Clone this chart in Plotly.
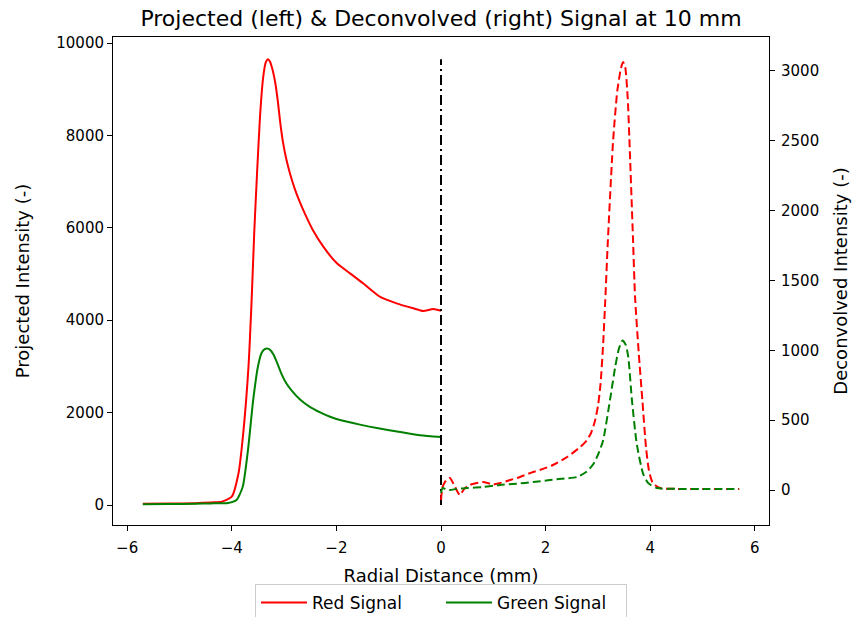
import plotly.graph_objects as go

# ---------------- data ----------------
# Projected signals (left axis), radial distance -5.7 .. 0 mm
proj_red_x = [-5.7, -5.2, -4.7, -4.4, -4.19, -4.0, -3.87, -3.78, -3.68, -3.62, -3.57, -3.52,
              -3.46, -3.40, -3.35, -3.31, -3.27, -3.22, -3.17, -3.12, -3.07, -3.02, -2.95,
              -2.88, -2.80, -2.70, -2.60, -2.45, -2.25, -1.99, -1.74, -1.49, -1.17, -0.85,
              -0.53, -0.34, -0.15, 0.0]
proj_red_y = [25, 30, 40, 55, 72, 180, 693, 1558, 2994, 4437, 5900, 7100,
              8400, 9250, 9580, 9650, 9600, 9420, 9150, 8750, 8250, 7850, 7450,
              7150, 6860, 6560, 6300, 5952, 5591, 5231, 5014, 4798, 4509, 4365,
              4257, 4199, 4242, 4206]

proj_green_x = [-5.7, -5.2, -4.7, -4.4, -4.07, -3.91, -3.79, -3.69, -3.59, -3.50, -3.43,
                -3.37, -3.31, -3.26, -3.20, -3.13, -3.05, -2.96, -2.85, -2.70, -2.50,
                -2.30, -2.12, -1.93, -1.55, -1.20, -0.78, -0.40, 0.0]
proj_green_y = [15, 20, 28, 35, 43, 108, 396, 1190, 2273, 2994, 3290,
                3375, 3385, 3350, 3250, 3070, 2840, 2640, 2470, 2290, 2120,
                2000, 1910, 1840, 1740, 1660, 1580, 1510, 1470]

# Deconvolved signals (right axis), radial distance 0 .. 5.7 mm
deconv_red_x = [0.0, 0.03, 0.10, 0.17, 0.27, 0.36, 0.45, 0.55, 0.80, 1.0, 1.13, 1.32, 1.51,
                1.76, 1.89, 2.14, 2.41, 2.66, 2.79, 2.87, 2.94, 3.00, 3.05, 3.10, 3.14,
                3.19, 3.29, 3.37, 3.44, 3.48, 3.52, 3.57, 3.61, 3.67, 3.71, 3.78, 3.85,
                3.92, 3.98, 4.05, 4.19, 4.5, 5.0, 5.7]
deconv_red_y = [-71, 21, 70, 86, 21, -36, 10, 36, 57, 40, 50, 71, 93,
                129, 143, 179, 236, 307, 357, 410, 490, 600, 760, 1050, 1357,
                1786, 2500, 2857, 3020, 3064, 3030, 2800, 2420, 1800, 1380, 980, 640,
                300, 130, 50, 14, 8, 7, 7]

deconv_green_x = [0.0, 0.03, 0.10, 0.17, 0.30, 0.50, 0.80, 1.13, 1.45, 1.76, 2.08, 2.30,
                  2.60, 2.78, 2.92, 3.02, 3.10, 3.23, 3.33, 3.40, 3.47, 3.53, 3.58, 3.65,
                  3.74, 3.86, 3.96, 4.13, 4.5, 5.0, 5.7]
deconv_green_y = [-21, 14, 5, 0, 8, 14, 21, 36, 45, 57, 71, 80,
                  93, 130, 190, 270, 357, 643, 881, 1010, 1071, 1040, 952, 643,
                  336, 121, 50, 14, 8, 7, 7]

x_ticks = [-6, -4, -2, 0, 2, 4, 6]
y_ticks = [0, 2000, 4000, 6000, 8000, 10000]
y_tick_text = ["0", "2000", "4000", "6000", "8000", "10000"]
y2_ticks = [0, 500, 1000, 1500, 2000, 2500, 3000]

RED = "#ff0000"
GREEN = "#008000"
FONT = "DejaVu Sans"

fig = go.Figure()

fig.add_trace(go.Scatter(x=proj_red_x, y=proj_red_y, mode="lines", name="Red Signal",
                         line=dict(color=RED, width=2, shape="spline", smoothing=0.6)))
fig.add_trace(go.Scatter(x=proj_green_x, y=proj_green_y, mode="lines", name="Green Signal",
                         line=dict(color=GREEN, width=2, shape="spline", smoothing=0.6)))
fig.add_trace(go.Scatter(x=deconv_red_x, y=deconv_red_y, mode="lines", yaxis="y2",
                         showlegend=False,
                         line=dict(color=RED, width=2, dash="8px,4px", shape="spline", smoothing=0.6)))
fig.add_trace(go.Scatter(x=deconv_green_x, y=deconv_green_y, mode="lines", yaxis="y2",
                         showlegend=False,
                         line=dict(color=GREEN, width=2, dash="8px,4px", shape="spline", smoothing=0.6)))
# centre line at r = 0, from 0 to the projected red maximum
fig.add_trace(go.Scatter(x=[0, 0], y=[0, max(proj_red_y)], mode="lines", showlegend=False,
                         line=dict(color="black", width=2, dash="10px,4px,2px,4px")))

axis_common = dict(showline=True, linecolor="black", linewidth=1, ticks="outside",
                   ticklen=5, tickwidth=1, tickcolor="black", showgrid=False,
                   zeroline=False, automargin=False,
                   tickfont=dict(size=15, color="black", family=FONT))

fig.update_layout(
    width=854, height=617,
    margin=dict(l=113, r=85, t=37, b=92, autoexpand=False),
    paper_bgcolor="white", plot_bgcolor="white",
    font=dict(family=FONT, size=15, color="black"),
    title=dict(text="Projected (left) & Deconvolved (right) Signal at 10 mm",
               x=0.5, xref="paper", xanchor="center",
               y=1 - 18 / 617, yref="container", yanchor="middle",
               font=dict(size=22, color="black", family=FONT)),
    xaxis=dict(range=[-6.27, 6.27], tickvals=x_ticks, mirror=True, ticklabelstandoff=4,
               title=dict(text="Radial Distance (mm)", standoff=13,
                          font=dict(size=18, color="black")),
               **axis_common),
    yaxis=dict(range=[-433, 10130], tickvals=y_ticks, ticktext=y_tick_text,
               title=dict(text="Projected Intensity (-)", standoff=21,
                          font=dict(size=18, color="black")),
               **axis_common),
    yaxis2=dict(range=[-250.6, 3243], tickvals=y2_ticks, overlaying="y", side="right",
                ticklabelstandoff=3,
                title=dict(text="Deconvolved Intensity (-)", standoff=16,
                           font=dict(size=18, color="black")),
                **axis_common),
    legend=dict(orientation="h", x=0.5, xanchor="center", y=-0.121, yanchor="top",
                bordercolor="#cccccc", borderwidth=1, bgcolor="white",
                font=dict(size=17, color="black", family=FONT),
                itemwidth=46, entrywidth=124, entrywidthmode="pixels",
                traceorder="normal"),
    showlegend=True,
)

fig.write_html("out.html")
